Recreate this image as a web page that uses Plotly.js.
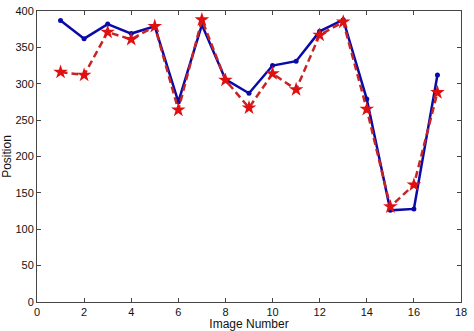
<!DOCTYPE html>
<html><head><meta charset="utf-8">
<script src="https://cdn.plot.ly/plotly-3.0.1.min.js"></script>
<style>html,body{margin:0;padding:0;background:#fff;}#c{width:474px;height:331px;}</style>
</head><body><div id="c"></div>
<script>
const imageNumber = [1,2,3,4,5,6,7,8,9,10,11,12,13,14,15,16,17];
const seriesA = [387,362,382,369,379,275,381,306,287,325,331,372,388,279,126,128,312];
const seriesB = [316,312,371,361,379,264,388,305,267,314,292,367,385,265,131,161,288];
const xTicks = [0,2,4,6,8,10,12,14,16,18];
const yTicks = [0,50,100,150,200,250,300,350,400];

const traces = [
  {x: imageNumber, y: seriesA, mode: 'lines+markers', type: 'scatter',
   line: {color: '#0a0aa8', width: 2.5}, marker: {color: '#0a0aa8', size: 5, symbol: 'circle'}},
  {x: imageNumber, y: seriesB, mode: 'lines+markers', type: 'scatter',
   line: {color: '#c82424', width: 2.5, dash: '7px,4px'}, marker: {color: '#e01010', size: 11, symbol: 'star'}}
];
const axisCommon = {showgrid:false, zeroline:false, showline:true, linecolor:'#444', linewidth:1,
  mirror:'ticks', ticks:'inside', ticklen:4, tickcolor:'#444',
  tickfont:{family:'Liberation Sans, Arial, sans-serif', size:11, color:'#111'}};
const layout = {
  width:474, height:331, margin:{l:37, r:13, t:11, b:29},
  paper_bgcolor:'#fff', plot_bgcolor:'#fff', showlegend:false,
  xaxis: Object.assign({}, axisCommon, {range:[0,18], tickvals:xTicks, ticktext:xTicks.map(String),
    title:{text:'Image Number', standoff:2, font:{family:'Liberation Sans, Arial, sans-serif', size:12, color:'#111'}}}),
  yaxis: Object.assign({}, axisCommon, {range:[0,400], tickvals:yTicks, ticktext:yTicks.map(String),
    title:{text:'Position', standoff:4, font:{family:'Liberation Sans, Arial, sans-serif', size:12, color:'#111'}}})
};
Plotly.newPlot('c', traces, layout, {displayModeBar:false, staticPlot:true});
</script></body></html>
